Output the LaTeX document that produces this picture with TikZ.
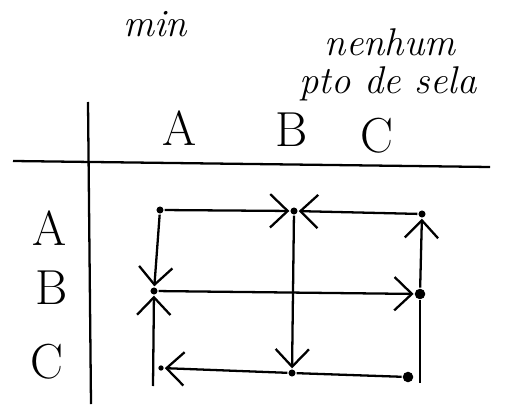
\documentclass[tikz,border=0pt]{standalone}
\usetikzlibrary{arrows.meta}
\begin{document}
\begin{tikzpicture}[x=0.02cm,y=-0.02cm,>={Straight Barb[length=10pt,width=19pt]},line width=1.3pt,
	dot/.style={circle,fill,inner sep=0pt,minimum size=4pt},
	bigdot/.style={dot,minimum size=6pt},
	lbl/.style={font=\fontsize{28}{30}\selectfont},
	note/.style={font=\fontsize{22}{24}\selectfont\itshape}]
	\useasboundingbox (0,0) rectangle (513,405);
	
	\node[note] (min) at (155,24) {min};
	\node[note] (nenhum) at (390,42) {nenhum};
	\node[note] (sela) at (388,84) {pto de sela};
	
	\coordinate (h1) at (13,161) ;
	\coordinate (h2) at (490,167) ;
	\coordinate (v1) at (88,102) ;
	\coordinate (v2) at (91,404) ;
	\draw (h1)--(h2);
	\draw (v1)--(v2);
	
	\node[lbl] (cA) at (180,128) {A};
	\node[lbl] (cB) at (292,130) {B};
	\node[lbl] (cC) at (377,136) {C};
	\node[lbl] (lA) at (50,228) {A};
	\node[lbl] (lB) at (52,288) {B};
	\node[lbl] (lC) at (47,362) {C};
	
	\node[dot] (AA) at (160,210) {};
	\node[dot] (AB) at (294,211) {};
	\node[dot] (AC) at (422,214) {};
	\node[dot] (BA) at (154,291) {};
	\node[bigdot] (BC) at (420,294) {};
	\node[dot,minimum size=3pt] (CA) at (161,368) {};
	\node[dot] (CB) at (292,373) {};
	\node[bigdot] (CC) at (408,377) {};
	\coordinate (Afim) at (153,386) ;
	\coordinate (Cfim) at (420,383) ;
	
	\draw[->] (AA)--(AB);
	\draw[->] (AC)--(AB);
	\draw[->] (AA)--(BA);
	\draw[->] (Afim)--(BA);
	\draw[->] (BA)--(BC);
	\draw[->] (BC)--(AC);
	\draw (Cfim)--(BC);
	\draw[->] (AB)--(CB);
	\draw (CC)--(CB);
	\draw[->] (CB)--(CA);
\end{tikzpicture}
\end{document}
